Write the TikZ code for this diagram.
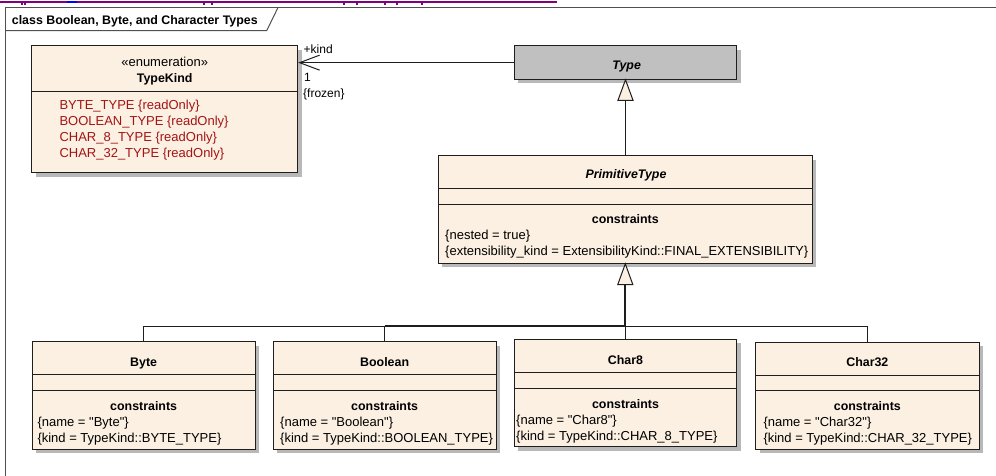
\documentclass[tikz,border=0pt]{standalone}
\usepackage{fontspec}
\setmainfont{Liberation Sans}[Ligatures=TeXOff]
\usetikzlibrary{arrows.meta,shadows}

\definecolor{boxfill}{RGB}{251,240,226}
\definecolor{typefill}{RGB}{192,192,192}
\definecolor{literalred}{RGB}{163,21,21}
\definecolor{linkpurple}{RGB}{128,0,128}
\definecolor{linkblue}{RGB}{0,0,255}
\definecolor{framegray}{RGB}{80,80,80}
\definecolor{edge}{RGB}{30,30,30}

\begin{document}
\begin{tikzpicture}[x=1pt,y=-1pt,
  umlbox/.style={draw=edge, line width=1pt, fill=boxfill, inner sep=0pt,
    general shadow={fill=black!28, shadow xshift=4pt, shadow yshift=-4pt}},
  plain/.style={inner sep=0pt, text height=9.3pt, text depth=0pt,
    font=\fontsize{13pt}{15pt}\selectfont},
  heading/.style={plain, font=\fontsize{12.4pt}{15pt}\selectfont\bfseries},
  abstractname/.style={plain, font=\fontsize{12.4pt}{15pt}\selectfont\bfseries\itshape},
  endlabel/.style={plain, anchor=west, font=\fontsize{12pt}{14pt}\selectfont},
  literal/.style={plain, anchor=west, text=literalred},
  constraint/.style={plain, anchor=west},
  conn/.style={draw=edge, line width=1pt},
  sep/.style={draw=edge, line width=1pt},
  genhead/.style={draw=edge, line width=1pt, fill=boxfill, line join=miter}
]
\useasboundingbox (0,0) rectangle (996,476);

% hyperlink underline running along the top edge
\fill[linkpurple] (0,1) rectangle (557,3.3);
\fill[linkblue] (66.7,1) rectangle (77.3,3.3);
\foreach \x in {22,25,204,212,344,357,385,397,422}
  \fill[linkpurple] (\x-0.6,3.3) rectangle (\x+0.6,5.3);

% diagram frame and its name tab
\draw[framegray, line width=1pt] (5,476) -- (5,7.5) -- (996,7.5);
\draw[framegray, line width=1pt] (5,30.7) -- (266.7,30.7) -- (278,7.5);
\node[heading, anchor=west] (frametitle) at (11.7,20) {class Boolean, Byte, and Character Types};

% ---------- TypeKind enumeration ----------
\node[umlbox, minimum width=266pt, minimum height=126.7pt] (typekind) at (164.7,109.35) {};
\draw[sep] (31.7,91.7) -- (297.7,91.7);
\node[plain] (tk-stereo) at (164.7,62.3) {«enumeration»};
\node[heading] (tk-name) at (164.7,77.7) {TypeKind};
\node[literal] (lit-byte) at (59.3,105.3) {BYTE\_TYPE \{readOnly\}};
\node[literal] (lit-bool) at (59.3,121.2) {BOOLEAN\_TYPE \{readOnly\}};
\node[literal] (lit-c8) at (59.3,137.1) {CHAR\_8\_TYPE \{readOnly\}};
\node[literal] (lit-c32) at (59.3,153.0) {CHAR\_32\_TYPE \{readOnly\}};

% ---------- Type ----------
\node[umlbox, fill=typefill, minimum width=222.4pt, minimum height=33.3pt] (type) at (625.5,62.65) {};
\node[abstractname] (type-name) at (626.7,64.7) {Type};

% ---------- PrimitiveType ----------
\node[umlbox, minimum width=374pt, minimum height=107.6pt] (prim) at (625.3,209.5) {};
\draw[sep] (438.3,188.3) -- (812.3,188.3);
\draw[sep] (438.3,204.3) -- (812.3,204.3);
\node[abstractname] (prim-name) at (626,174.3) {PrimitiveType};
\node[heading] (prim-cons) at (625.3,218.8) {constraints};
\node[constraint] (prim-c1) at (445,234.7) {\{nested = true\}};
\node[constraint] (prim-c2) at (445,250.4) {\{extensibility\_kind = ExtensibilityKind::FINAL\_EXTENSIBILITY\}};

% ---------- Byte ----------
\node[umlbox, minimum width=222.7pt, minimum height=107.6pt] (byte) at (143.65,395.5) {};
\draw[sep] (32.3,374.3) -- (255,374.3);
\draw[sep] (32.3,390.7) -- (255,390.7);
\node[heading] (byte-name) at (143.65,362.3) {Byte};
\node[heading] (byte-cons) at (143.65,406) {constraints};
\node[constraint] (byte-c1) at (37.3,421.7) {\{name = "Byte"\}};
\node[constraint] (byte-c2) at (37.3,437.7) {\{kind = TypeKind::BYTE\_TYPE\}};

% ---------- Boolean ----------
\node[umlbox, minimum width=222.7pt, minimum height=107.6pt] (boolean) at (384.65,395.5) {};
\draw[sep] (273.3,374.3) -- (496,374.3);
\draw[sep] (273.3,390.7) -- (496,390.7);
\node[heading] (bool-name) at (384.65,362.3) {Boolean};
\node[heading] (bool-cons) at (384.65,406) {constraints};
\node[constraint] (bool-c1) at (280,421.7) {\{name = "Boolean"\}};
\node[constraint] (bool-c2) at (280,437.7) {\{kind = TypeKind::BOOLEAN\_TYPE\}};

% ---------- Char8 ----------
\node[umlbox, minimum width=222.4pt, minimum height=107.4pt] (char8) at (625.5,393) {};
\draw[sep] (514.3,372.3) -- (736.7,372.3);
\draw[sep] (514.3,388.3) -- (736.7,388.3);
\node[heading] (c8-name) at (625.5,360) {Char8};
\node[heading] (c8-cons) at (625.5,404) {constraints};
\node[constraint] (c8-c1) at (516,420) {\{name = "Char8"\}};
\node[constraint] (c8-c2) at (516,436) {\{kind = TypeKind::CHAR\_8\_TYPE\}};

% ---------- Char32 ----------
\node[umlbox, minimum width=223.3pt, minimum height=106.7pt] (char32) at (867.35,395.65) {};
\draw[sep] (755.7,375) -- (979,375);
\draw[sep] (755.7,390.7) -- (979,390.7);
\node[heading] (c32-name) at (867.35,362.3) {Char32};
\node[heading] (c32-cons) at (867.35,406) {constraints};
\node[constraint] (c32-c1) at (763.3,421.7) {\{name = "Char32"\}};
\node[constraint] (c32-c2) at (763.3,437.7) {\{kind = TypeKind::CHAR\_32\_TYPE\}};

% ---------- association Type -> TypeKind ----------
\draw[conn, -{Straight Barb[length=20pt,width=15pt,line width=1pt]}] (type.west) -- (typekind.east |- type.west);
\node[endlabel] (role) at (303.5,48.8) {+kind};
\node[endlabel] (mult) at (304,77) {1};
\node[endlabel] (frozen) at (303,93.3) {\{frozen\}};

% ---------- generalization PrimitiveType -> Type ----------
\coordinate (typetri) at ([yshift=-20.7pt]type.south);
\draw[conn] (typetri) -- (typetri |- prim.north);
\draw[genhead] (type.south) -- ([xshift=-7.6pt]typetri) -- ([xshift=7.6pt]typetri) -- cycle;

% ---------- generalization tree to PrimitiveType ----------
\coordinate (primtri) at ([yshift=-20.7pt]prim.south);
\coordinate (join) at ([yshift=-62.4pt]prim.south);
\draw[conn] (byte.north) |- (join) -| (char32.north);
\draw[conn] (char8.north) |- (join);
\draw[conn] (boolean.north) -- (boolean.north |- join);
\draw[conn, line width=2pt] (boolean.north |- join) -- (join) -- (primtri);
\draw[genhead] (prim.south) -- ([xshift=-7.5pt]primtri) -- ([xshift=7.5pt]primtri) -- cycle;
\end{tikzpicture}
\end{document}
